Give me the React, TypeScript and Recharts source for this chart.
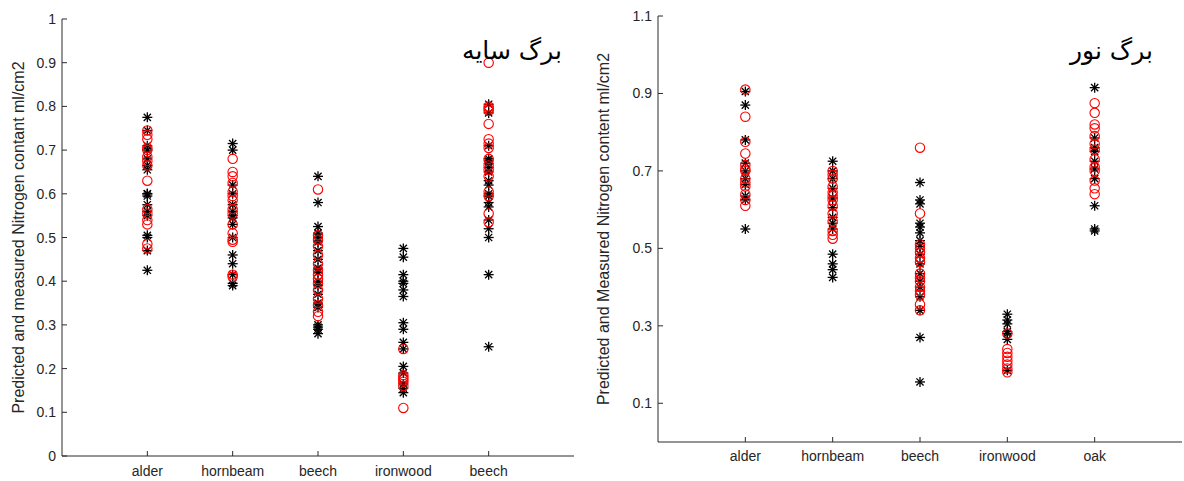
import { ScatterChart, Scatter, XAxis, YAxis } from 'recharts';

const shadeCategories = ['alder', 'hornbeam', 'beech', 'ironwood', 'beech'];
const lightCategories = ['alder', 'hornbeam', 'beech', 'ironwood', 'oak'];
const categoryTicks = [1, 2, 3, 4, 5];
const shadeTicks = [0, 0.1, 0.2, 0.3, 0.4, 0.5, 0.6, 0.7, 0.8, 0.9, 1];
const lightTicks = [0.1, 0.3, 0.5, 0.7, 0.9, 1.1];

// shade leaves (برگ سایه): measured = red circles, predicted = black stars, one list per species
const shadeMeasured = [
  [0.745, 0.735, 0.725, 0.705, 0.7, 0.685, 0.675, 0.665, 0.63, 0.565, 0.555, 0.54, 0.53, 0.485, 0.475],
  [0.68, 0.65, 0.64, 0.625, 0.605, 0.595, 0.585, 0.565, 0.555, 0.53, 0.51, 0.495, 0.49, 0.415, 0.41],
  [0.61, 0.505, 0.495, 0.48, 0.46, 0.44, 0.425, 0.415, 0.405, 0.395, 0.38, 0.36, 0.345, 0.33, 0.32],
  [0.245, 0.185, 0.18, 0.175, 0.17, 0.16, 0.11],
  [0.9, 0.8, 0.795, 0.79, 0.76, 0.725, 0.715, 0.705, 0.68, 0.665, 0.655, 0.64, 0.605, 0.595, 0.555, 0.535],
];
const shadePredicted = [
  [0.775, 0.745, 0.71, 0.7, 0.68, 0.665, 0.655, 0.6, 0.6, 0.595, 0.575, 0.56, 0.55, 0.505, 0.5, 0.47, 0.425],
  [0.715, 0.7, 0.62, 0.6, 0.575, 0.56, 0.55, 0.545, 0.53, 0.5, 0.46, 0.44, 0.415, 0.395, 0.39],
  [0.64, 0.58, 0.525, 0.51, 0.5, 0.49, 0.47, 0.45, 0.43, 0.42, 0.4, 0.39, 0.37, 0.35, 0.34, 0.3, 0.295, 0.29, 0.28],
  [0.475, 0.455, 0.415, 0.4, 0.395, 0.38, 0.365, 0.305, 0.29, 0.26, 0.245, 0.205, 0.19, 0.165, 0.155, 0.145],
  [0.805, 0.785, 0.71, 0.68, 0.675, 0.67, 0.66, 0.65, 0.63, 0.62, 0.6, 0.595, 0.58, 0.57, 0.54, 0.52, 0.5, 0.415, 0.25],
];

// light leaves (برگ نور)
const lightMeasured = [
  [0.91, 0.84, 0.775, 0.745, 0.715, 0.705, 0.7, 0.68, 0.67, 0.66, 0.64, 0.625, 0.61],
  [0.7, 0.69, 0.68, 0.66, 0.645, 0.635, 0.625, 0.61, 0.59, 0.57, 0.545, 0.535, 0.525],
  [0.76, 0.59, 0.51, 0.5, 0.49, 0.475, 0.465, 0.435, 0.425, 0.415, 0.4, 0.39, 0.38, 0.355, 0.34],
  [0.28, 0.24, 0.23, 0.22, 0.21, 0.2, 0.19, 0.18],
  [0.875, 0.85, 0.82, 0.81, 0.79, 0.77, 0.755, 0.73, 0.71, 0.7, 0.675, 0.655, 0.64],
];
const lightPredicted = [
  [0.905, 0.87, 0.78, 0.72, 0.7, 0.68, 0.665, 0.635, 0.625, 0.55],
  [0.725, 0.7, 0.68, 0.655, 0.63, 0.605, 0.58, 0.565, 0.55, 0.485, 0.46, 0.445, 0.425],
  [0.67, 0.625, 0.615, 0.565, 0.555, 0.54, 0.52, 0.505, 0.485, 0.46, 0.435, 0.415, 0.4, 0.375, 0.34, 0.27, 0.155],
  [0.33, 0.315, 0.305, 0.285, 0.28, 0.265, 0.185],
  [0.915, 0.785, 0.76, 0.75, 0.725, 0.705, 0.68, 0.61, 0.55, 0.545],
];

const FONT = '"Liberation Sans", Arial, sans-serif';
const AXIS = '#2b2b2b';
const TEXT = '#262626';

const toPoints = (groups: number[][]) =>
  groups.flatMap((vals, i) => vals.map((v) => ({ x: i + 1, y: v })));

const fmt = (v: number) => String(Number(v.toFixed(1)));

const Star = (props: any) => {
  const { cx, cy } = props;
  if (cx == null || cy == null) return null;
  const a = 5;
  const d = 3.6;
  return (
    <g stroke="#000" strokeWidth={1.3}>
      <line x1={cx - a} y1={cy} x2={cx + a} y2={cy} />
      <line x1={cx} y1={cy - a} x2={cx} y2={cy + a} />
      <line x1={cx - d} y1={cy - d} x2={cx + d} y2={cy + d} />
      <line x1={cx - d} y1={cy + d} x2={cx + d} y2={cy - d} />
      <circle cx={cx} cy={cy} r={1.5} fill="#000" stroke="none" />
    </g>
  );
};

const Ring = (props: any) => {
  const { cx, cy } = props;
  if (cx == null || cy == null) return null;
  return <circle cx={cx} cy={cy} r={4.7} fill="none" stroke="#ff0000" strokeWidth={1.1} />;
};

// ticks point inward like the MATLAB box axes
const LeftTick = (props: any) => {
  const { x, y, payload } = props;
  return (
    <g>
      <line x1={x} y1={y} x2={x + 5} y2={y} stroke={AXIS} />
      <text x={x - 6} y={y} dy={5} textAnchor="end" fill={TEXT} fontSize={14} fontFamily={FONT}>
        {fmt(payload.value)}
      </text>
    </g>
  );
};

const RightTick = (props: any) => {
  const { x, y } = props;
  return <line x1={x - 5} y1={y} x2={x} y2={y} stroke={AXIS} />;
};

const TopTick = (props: any) => {
  const { x, y } = props;
  return <line x1={x} y1={y} x2={x} y2={y + 5} stroke={AXIS} />;
};

const makeBottomTick = (labels: string[], gap: number) => (props: any) => {
  const { x, y, payload } = props;
  return (
    <g>
      <line x1={x} y1={y} x2={x} y2={y - 5} stroke={AXIS} />
      <text x={x} y={y + gap} textAnchor="middle" fill={TEXT} fontSize={14} fontFamily={FONT}>
        {labels[payload.value - 1]}
      </text>
    </g>
  );
};

const makeYLabel = (text: string, baseX: number) => (props: any) => {
  const { viewBox } = props;
  const cy = viewBox.y + viewBox.height / 2;
  return (
    <text
      x={baseX}
      y={cy}
      transform={`rotate(-90 ${baseX} ${cy})`}
      textAnchor="middle"
      fill={TEXT}
      fontSize={16}
      fontFamily={FONT}
    >
      {text}
    </text>
  );
};

interface PanelProps {
  left: number;
  top: number;
  right: number;
  yAxisWidth: number;
  xAxisHeight: number;
  yDomain: number[];
  yTicks: number[];
  labels: string[];
  labelGap: number;
  measured: number[][];
  predicted: number[][];
  yLabel: string;
  yLabelX: number;
  title: string;
  titleRight: number;
}

function Panel(p: PanelProps) {
  const BottomTick = makeBottomTick(p.labels, p.labelGap);
  const YLabel = makeYLabel(p.yLabel, p.yLabelX);
  return (
    <div style={{ position: 'absolute', left: p.left, top: 0, width: 592, height: 481 }}>
      <ScatterChart width={592} height={481} margin={{ top: p.top, right: p.right, bottom: 0, left: 0 }}>
        <XAxis
          type="number"
          dataKey="x"
          domain={[0, 6]}
          ticks={categoryTicks}
          height={p.xAxisHeight}
          tickSize={0}
          tickMargin={0}
          tickLine={false}
          stroke={AXIS}
          tick={<BottomTick />}
          allowDataOverflow
        />
        <XAxis
          xAxisId="top"
          orientation="top"
          type="number"
          domain={[0, 6]}
          ticks={categoryTicks}
          height={0}
          tickSize={0}
          tickMargin={0}
          tickLine={false}
          stroke={AXIS}
          tick={<TopTick />}
          allowDataOverflow
        />
        <YAxis
          type="number"
          dataKey="y"
          domain={p.yDomain}
          ticks={p.yTicks}
          width={p.yAxisWidth}
          tickSize={0}
          tickMargin={0}
          tickLine={false}
          stroke={AXIS}
          tick={<LeftTick />}
          label={<YLabel />}
          allowDataOverflow
        />
        <YAxis
          yAxisId="right"
          orientation="right"
          type="number"
          domain={p.yDomain}
          ticks={p.yTicks}
          width={0}
          tickSize={0}
          tickMargin={0}
          tickLine={false}
          stroke={AXIS}
          tick={<RightTick />}
          allowDataOverflow
        />
        <Scatter data={toPoints(p.predicted)} shape={<Star />} isAnimationActive={false} />
        <Scatter data={toPoints(p.measured)} shape={<Ring />} isAnimationActive={false} />
      </ScatterChart>
      <div
        style={{
          position: 'absolute',
          left: p.titleRight - 200,
          width: 200,
          top: 38,
          textAlign: 'right',
          direction: 'rtl',
          fontFamily: '"DejaVu Sans", sans-serif',
          fontSize: 25,
          lineHeight: '25px',
          color: '#000',
        }}
      >
        {p.title}
      </div>
    </div>
  );
}

export default function App() {
  return (
    <div style={{ position: 'absolute', left: 0, top: 0, width: 1184, height: 481, background: '#fff' }}>
      <Panel
        left={0}
        top={19}
        right={18}
        yAxisWidth={62}
        xAxisHeight={25}
        yDomain={[0, 1]}
        yTicks={shadeTicks}
        labels={shadeCategories}
        labelGap={20}
        measured={shadeMeasured}
        predicted={shadePredicted}
        yLabel="Predicted and measured Nitrogen contant ml/cm2"
        yLabelX={24}
        title="برگ سایه"
        titleRight={562}
      />
      <Panel
        left={592}
        top={16}
        right={2}
        yAxisWidth={66}
        xAxisHeight={39}
        yDomain={[0, 1.1]}
        yTicks={lightTicks}
        labels={lightCategories}
        labelGap={19}
        measured={lightMeasured}
        predicted={lightPredicted}
        yLabel="Predicted and Measured Nitrogen content ml/cm2"
        yLabelX={17}
        title="برگ نور"
        titleRight={561}
      />
    </div>
  );
}
